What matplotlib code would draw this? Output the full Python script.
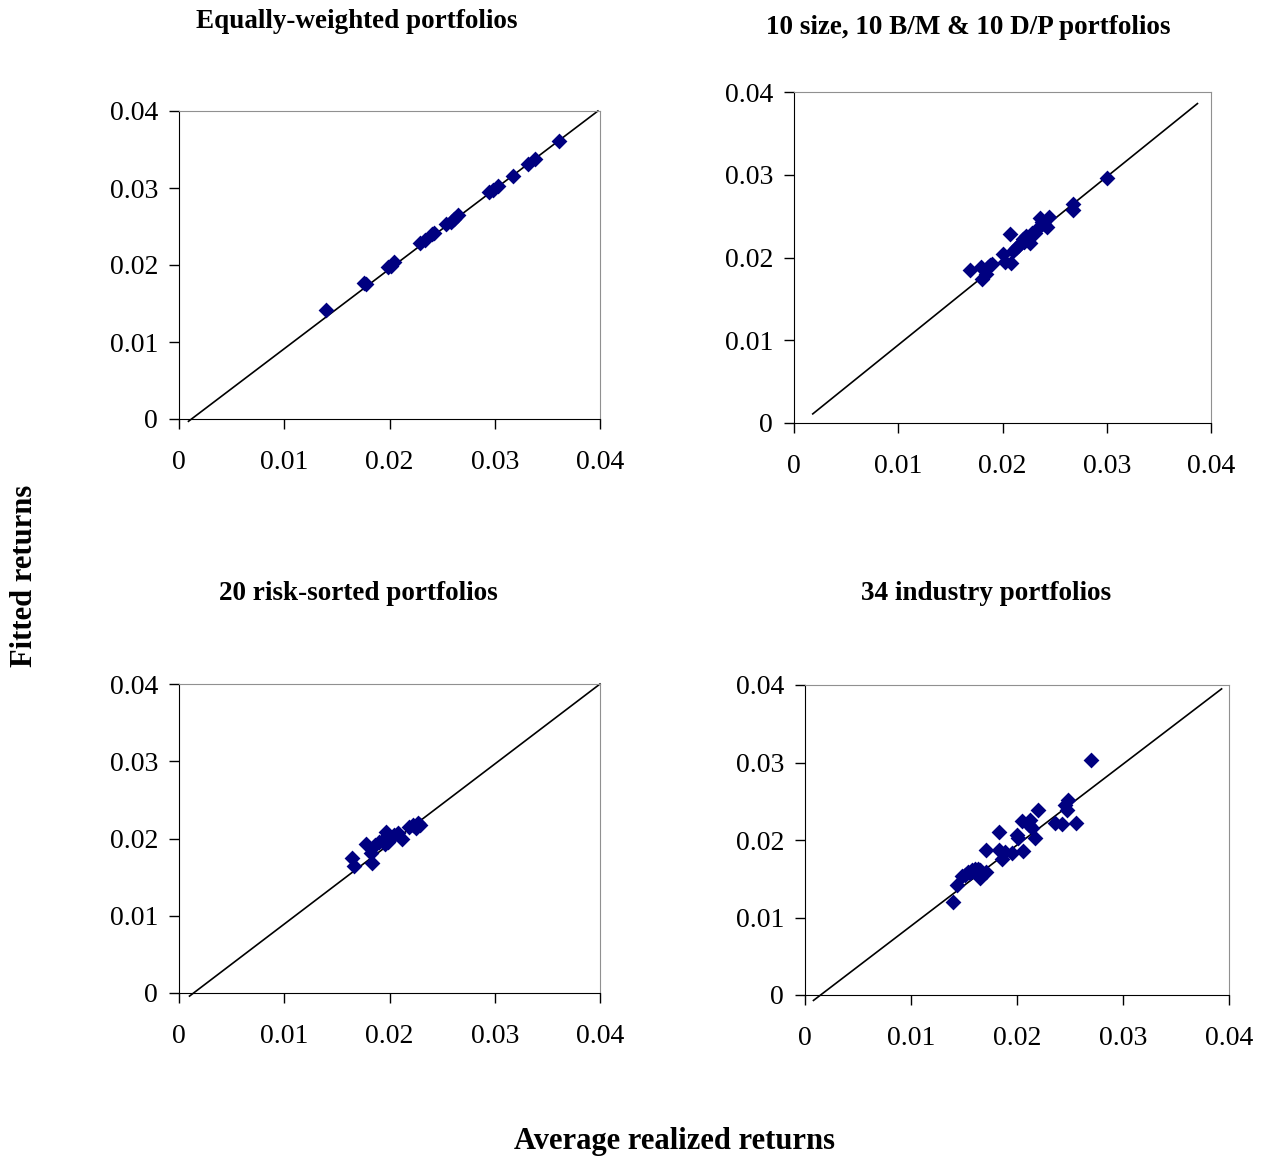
import matplotlib
matplotlib.use('Agg')
import matplotlib.pyplot as plt

plt.rcParams['font.family'] = ['Liberation Serif', 'DejaVu Serif']

# equally-weighted portfolios
ew_x = [0.0140, 0.0176, 0.0178, 0.0199, 0.0201, 0.0204, 0.0229, 0.0234, 0.0240, 0.0242,
        0.0254, 0.0258, 0.0261, 0.0265, 0.0295, 0.0298, 0.0303, 0.0317, 0.0332, 0.0338, 0.0361]
ew_y = [0.0141, 0.0177, 0.0175, 0.0197, 0.0199, 0.0204, 0.0229, 0.0232, 0.0240, 0.0242,
        0.0253, 0.0256, 0.0260, 0.0265, 0.0295, 0.0297, 0.0302, 0.0316, 0.0331, 0.0338, 0.0361]
ew_line_x = [0.0009, 0.0398]
ew_line_y = [-0.0003, 0.0400]

# 10 size, 10 B/M & 10 D/P portfolios
sbd_x = [0.0169, 0.0179, 0.0180, 0.0184, 0.0186, 0.0188, 0.0190, 0.0200, 0.0202, 0.0207,
         0.0208, 0.0210, 0.0213, 0.0215, 0.0218, 0.0220, 0.0223, 0.0226, 0.0228, 0.0231,
         0.0233, 0.0236, 0.0238, 0.0240, 0.0243, 0.0245, 0.0268, 0.0268, 0.0300, 0.0221]
sbd_y = [0.0185, 0.0189, 0.0174, 0.0180, 0.0188, 0.0191, 0.0192, 0.0204, 0.0194, 0.0229,
         0.0193, 0.0208, 0.0211, 0.0214, 0.0218, 0.0222, 0.0226, 0.0217, 0.0230, 0.0230,
         0.0234, 0.0248, 0.0243, 0.0240, 0.0237, 0.0249, 0.0265, 0.0257, 0.0296, 0.0219]
sbd_line_x = [0.0018, 0.0387]
sbd_line_y = [0.0011, 0.0386]

# 20 risk-sorted portfolios
rs_x = [0.0164, 0.0166, 0.0178, 0.0182, 0.0183, 0.0186, 0.0190, 0.0194, 0.0197, 0.0199,
        0.0201, 0.0204, 0.0208, 0.0212, 0.0219, 0.0222, 0.0225, 0.0227, 0.0229, 0.0196]
rs_y = [0.0175, 0.0164, 0.0193, 0.0181, 0.0168, 0.0192, 0.0195, 0.0198, 0.0209, 0.0196,
        0.0201, 0.0205, 0.0207, 0.0200, 0.0215, 0.0217, 0.0213, 0.0220, 0.0218, 0.0193]
rs_line_x = [0.0010, 0.0400]
rs_line_y = [-0.0004, 0.0400]

# 34 industry portfolios
ind_x = [0.0140, 0.0143, 0.0148, 0.0151, 0.0154, 0.0156, 0.0158, 0.0160, 0.0163, 0.0165,
         0.0165, 0.0171, 0.0171, 0.0183, 0.0183, 0.0186, 0.0189, 0.0195, 0.0200, 0.0201,
         0.0205, 0.0206, 0.0211, 0.0212, 0.0214, 0.0217, 0.0220, 0.0236, 0.0242, 0.0245,
         0.0247, 0.0248, 0.0256, 0.0270]
ind_y = [0.0120, 0.0142, 0.0153, 0.0155, 0.0159, 0.0158, 0.0161, 0.0163, 0.0163, 0.0161,
         0.0151, 0.0187, 0.0159, 0.0210, 0.0187, 0.0176, 0.0185, 0.0183, 0.0206, 0.0202,
         0.0224, 0.0186, 0.0219, 0.0226, 0.0215, 0.0202, 0.0239, 0.0222, 0.0221, 0.0245,
         0.0239, 0.0252, 0.0222, 0.0303]
ind_line_x = [0.0008, 0.0393]
ind_line_y = [-0.0007, 0.0395]

ticks = [0, 0.01, 0.02, 0.03, 0.04]
tick_labels = ['0', '0.01', '0.02', '0.03', '0.04']

W, H = 1264, 1163
fig = plt.figure(figsize=(W / 100, H / 100), dpi=100)


def make_ax(left, top, right, bottom):
    return fig.add_axes([left / W, 1 - bottom / H, (right - left) / W, (bottom - top) / H])


panels = [
    (make_ax(179, 111, 600, 419), ew_x, ew_y, ew_line_x, ew_line_y),
    (make_ax(794, 92, 1211, 423), sbd_x, sbd_y, sbd_line_x, sbd_line_y),
    (make_ax(179, 684, 600, 993), rs_x, rs_y, rs_line_x, rs_line_y),
    (make_ax(805, 685, 1229, 995), ind_x, ind_y, ind_line_x, ind_line_y),
]

for ax, x, y, lx, ly in panels:
    ax.plot(lx, ly, color='black', linewidth=1.2, zorder=2, clip_on=False)
    ax.scatter(x, y, marker='D', s=65, color='#000080', linewidths=0, zorder=3)
    ax.set_xlim(0, 0.04)
    ax.set_ylim(0, 0.04)
    ax.set_xticks(ticks)
    ax.set_yticks(ticks)
    ax.set_xticklabels(tick_labels)
    ax.set_yticklabels(tick_labels)
    ax.tick_params(direction='out', length=7, width=1, labelsize=20)
    ax.tick_params(axis='x', pad=15)
    ax.tick_params(axis='y', pad=8)
    ax.spines['left'].set_color('black')
    ax.spines['bottom'].set_color('black')
    ax.spines['top'].set_color('#909090')
    ax.spines['right'].set_color('#909090')

title_kw = dict(ha='center', va='center', fontsize=19.5, fontweight='bold')
fig.text(357 / W, 1 - 21 / H, 'Equally-weighted portfolios', **title_kw)
fig.text(968 / W, 1 - 28 / H, '10 size, 10 B/M & 10 D/P portfolios', **title_kw)
fig.text(358 / W, 1 - 594 / H, '20 risk-sorted portfolios', **title_kw)
fig.text(986 / W, 1 - 594 / H, '34 industry portfolios', **title_kw)
fig.text(25 / W, 1 - 576 / H, 'Fitted returns', ha='center', va='center', rotation=90,
         fontsize=22, fontweight='bold')
fig.text(674 / W, 1 - 1142 / H, 'Average realized returns', ha='center', va='center',
         fontsize=22, fontweight='bold')

fig.savefig('out.png', dpi=100)
